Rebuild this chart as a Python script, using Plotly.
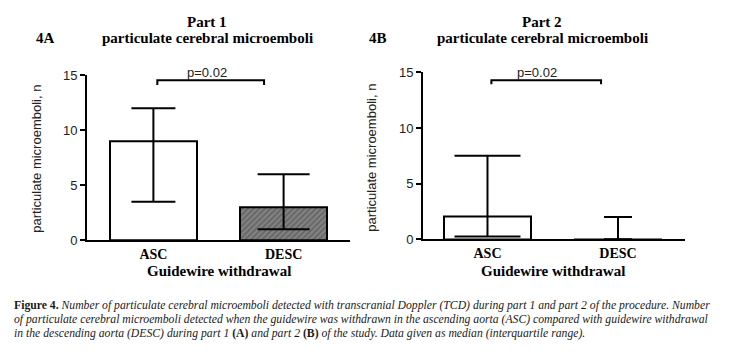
import plotly.graph_objects as go

W, H = 736, 358
OFF = 8  # page body margin offset observed in the rendered page

categories = ["ASC", "DESC"]
# Part 1 (panel 4A): median and interquartile range
part1_median = [9, 3]
part1_q1 = [3.5, 1]
part1_q3 = [12, 6]
# Part 2 (panel 4B)
part2_median = [2, 0]
part2_q1 = [0.25, 0]
part2_q3 = [7.5, 2]
y_ticks = [0, 5, 10, 15]
p_label = "p=0.02"

SERIF = "Liberation Serif, Times New Roman, serif"
SANS = "Liberation Sans, Arial, sans-serif"


def px_x(p):
    return (p - OFF) / W


def px_y(p):
    return 1 - (p - OFF) / H


fig = go.Figure()
xs = list(range(len(categories)))

panels = [
    dict(xa="x", ya="y", med=part1_median, lo=part1_q1, hi=part1_q3,
         colors=["white", "#828282"], shapes=["", "/"], capw=[22, 26]),
    dict(xa="x2", ya="y2", med=part2_median, lo=part2_q1, hi=part2_q3,
         colors=["white", "white"], shapes=["", ""], capw=[33, 14]),
]

for pn in panels:
    fig.add_trace(go.Bar(
        x=xs, y=pn["med"], xaxis=pn["xa"], yaxis=pn["ya"], width=0.67,
        marker=dict(color=pn["colors"], line=dict(color="black", width=2),
                    pattern=dict(shape=pn["shapes"], fillmode="overlay",
                                 fgcolor="#1a1a1a", size=4, solidity=0.4)),
        showlegend=False, hoverinfo="skip"))
    for i in xs:
        fig.add_trace(go.Scatter(
            x=[i], y=[pn["med"][i]], xaxis=pn["xa"], yaxis=pn["ya"],
            mode="markers", marker=dict(size=1, color="rgba(0,0,0,0)"),
            error_y=dict(type="data", symmetric=False,
                         array=[pn["hi"][i] - pn["med"][i]],
                         arrayminus=[pn["med"][i] - pn["lo"][i]],
                         color="black", thickness=2, width=pn["capw"][i]),
            showlegend=False, hoverinfo="skip"))

axis_common = dict(showline=True, linecolor="black", linewidth=2, showgrid=False,
                   zeroline=False, mirror=False)
xtickfont = dict(family=SERIF, size=14, color="black", weight="bold")
ytickfont = dict(family=SANS, size=13, color="#222")
fig.update_layout(
    width=W, height=H, margin=dict(l=0, r=0, t=0, b=0),
    paper_bgcolor="white", plot_bgcolor="white",
    xaxis=dict(axis_common, domain=[px_x(87), px_x(350)], range=[-0.51, 1.51],
               tickvals=xs, ticktext=categories, ticks="",
               tickfont=xtickfont, anchor="y"),
    yaxis=dict(axis_common, domain=[px_y(243), px_y(71)], range=[0, 15],
               tickvals=y_ticks, ticks="outside", ticklen=5, tickwidth=2,
               tickcolor="black", tickfont=ytickfont, anchor="x"),
    xaxis2=dict(axis_common, domain=[px_x(423), px_x(685)], range=[-0.494, 1.513],
                tickvals=xs, ticktext=categories, ticks="",
                tickfont=xtickfont, anchor="y2"),
    yaxis2=dict(axis_common, domain=[px_y(242), px_y(68)], range=[0, 15],
                tickvals=y_ticks, ticks="outside", ticklen=5, tickwidth=2,
                tickcolor="black", tickfont=ytickfont, anchor="x2"),
    bargap=0,
)

# significance brackets
for xr, yr, x0, x1, ytop, ybot in [("x", "y", 0.03, 0.85, 14.55, 14.12),
                                   ("x2", "y2", 0.03, 0.87, 14.3, 13.95)]:
    fig.add_shape(type="path", xref=xr, yref=yr,
                  path=f"M {x0},{ybot} L {x0},{ytop} L {x1},{ytop} L {x1},{ybot}",
                  line=dict(color="black", width=2))

ann = []
ann.append(dict(xref="x", yref="paper", x=0.41, y=px_y(68), text=p_label,
                font=dict(family=SANS, size=13, color="#222")))
ann.append(dict(xref="x2", yref="paper", x=0.38, y=px_y(68), text=p_label,
                font=dict(family=SANS, size=13, color="#222")))

title_font = dict(family=SERIF, size=15, color="black")
for cx, part, lab, lx in [(207, "Part 1", "4A", 45), (542, "Part 2", "4B", 378)]:
    ann.append(dict(xref="paper", yref="paper", x=px_x(cx), y=px_y(15),
                    text=f"<b>{part}</b>", font=title_font))
    ann.append(dict(xref="paper", yref="paper", x=px_x(cx), y=px_y(32),
                    text="<b>particulate cerebral microemboli</b>", font=title_font))
    ann.append(dict(xref="paper", yref="paper", x=px_x(lx), y=px_y(32),
                    text=f"<b>{lab}</b>", font=title_font))

for xr, ly, lxp in [("x", 158, 37), ("x2", 157, 372)]:
    ann.append(dict(xref=xr, yref="paper", x=0.5, y=px_y(275),
                    text="<b>Guidewire withdrawal</b>",
                    font=dict(family=SERIF, size=15, color="black")))
    ann.append(dict(xref="paper", yref="paper", x=px_x(lxp), y=px_y(ly),
                    text="particulate microemboli, n", textangle=-90,
                    font=dict(family=SANS, size=13, color="#222")))

cap_font = dict(family=SERIF, size=11.7, color="#1a1a1a")
cap_lines = [
    "<b>Figure 4.</b> <i>Number of particulate cerebral microemboli detected with transcranial Doppler (TCD) during part 1 and part 2 of the procedure. Number</i>",
    "<i>of particulate cerebral microemboli detected when the guidewire was withdrawn in the ascending aorta (ASC) compared with guidewire withdrawal</i>",
    "<i>in the descending aorta (DESC) during part 1</i> <b>(A)</b> <i>and part 2</i> <b>(B)</b> <i>of the study. Data given as median (interquartile range).</i>",
]
for yy, line in zip([311, 325.5, 340], cap_lines):
    ann.append(dict(xref="paper", yref="paper", x=px_x(12), y=px_y(yy),
                    xanchor="left", text=line, font=cap_font))

for a in ann:
    a.setdefault("showarrow", False)
    a.setdefault("yanchor", "middle")
    a.setdefault("xanchor", "center")
    fig.add_annotation(**a)

fig.write_html("out.html")
